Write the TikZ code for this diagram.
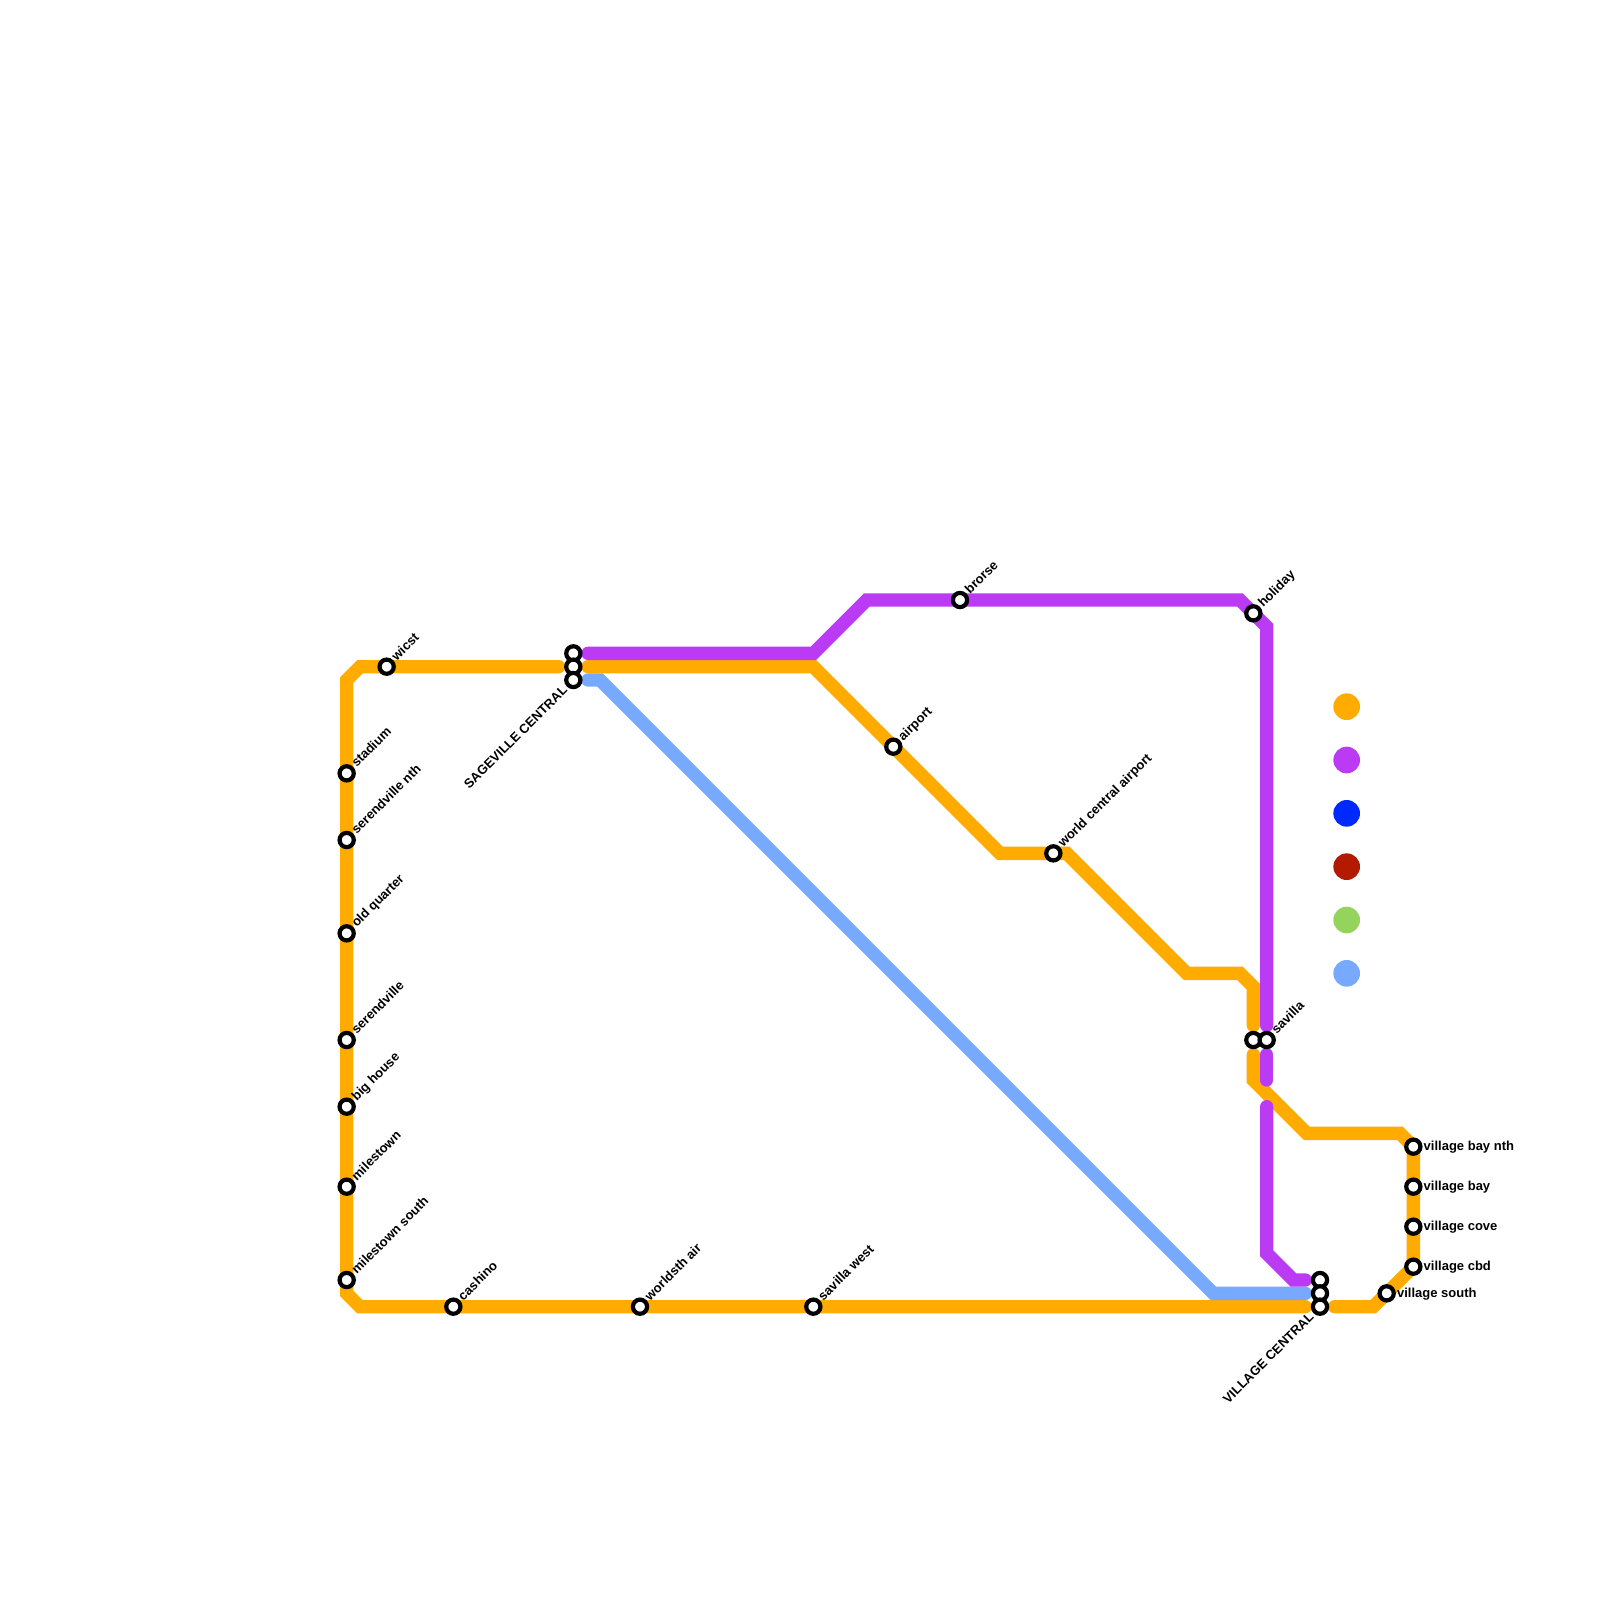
\documentclass[tikz,border=0pt]{standalone}
\usepackage{fontspec}
\setmainfont{Liberation Sans}
\usetikzlibrary{positioning}
\definecolor{lineorange}{HTML}{FFAB00}
\definecolor{linepurple}{HTML}{BB3AF3}
\definecolor{lineblue}{HTML}{0029FF}
\definecolor{linered}{HTML}{B31B00}
\definecolor{linegreen}{HTML}{94D35C}
\definecolor{linesky}{HTML}{76A9FF}
\tikzset{
  point/.style={coordinate},
  % The lines:
  metro/.style={line width=6.667pt,line cap=round,line join=miter,miter limit=10},
  % The stops:
  station/.style={
    circle,
    inner sep=0pt,
    minimum size=7.1pt,
    line width=2.1pt,
    draw=black,
    fill=white},
  % The legend:
  legend/.style={circle,inner sep=0pt,minimum size=13.333pt},
  % The texts:
  stoptext/.style={
    inner sep=0pt,
    font=\bfseries\fontsize{6.5}{7}\selectfont,
    text height=1.5ex,text depth=.25ex},
  ne text/.style={stoptext,anchor=west,rotate=45},
  sw text/.style={stoptext,anchor=east,rotate=45},
  e text/.style={stoptext,anchor=west}
}
\begin{document}
\begin{tikzpicture}[x=6.6667pt,y=-6.6667pt]
  \useasboundingbox (0,0) rectangle (120,120);

  % the bends and the line ends
  \node (o1)  [point] at (41.9,50) {};
  \node (o2)  [point] at (27,50)   {};
  \node (o3)  [point] at (26,51)   {};
  \node (o4)  [point] at (26,97)   {};
  \node (o5)  [point] at (27,98)   {};
  \node (o6)  [point] at (97.9,98) {};
  \node (o7)  [point] at (44.1,50) {};
  \node (o8)  [point] at (61,50)   {};
  \node (o9)  [point] at (75,64)   {};
  \node (o10) [point] at (80,64)   {};
  \node (o11) [point] at (89,73)   {};
  \node (o12) [point] at (93,73)   {};
  \node (o13) [point] at (94,74)   {};
  \node (o14) [point] at (94,76.9) {};
  \node (o15) [point] at (94,79.1) {};
  \node (o16) [point] at (94,81)   {};
  \node (o17) [point] at (98,85)   {};
  \node (o18) [point] at (105,85)  {};
  \node (o19) [point] at (106,86)  {};
  \node (o20) [point] at (106,95)  {};
  \node (o21) [point] at (103,98)  {};
  \node (o22) [point] at (100.1,98) {};

  \node (v1)  [point] at (44.1,49) {};
  \node (v2)  [point] at (61,49)   {};
  \node (v3)  [point] at (65,45)   {};
  \node (v4)  [point] at (93,45)   {};
  \node (v5)  [point] at (95,47)   {};
  \node (v6)  [point] at (95,76.9) {};
  \node (v7)  [point] at (95,79.1) {};
  \node (v8)  [point] at (95,81)   {};
  \node (v9)  [point] at (95,83)   {};
  \node (v10) [point] at (95,94)   {};
  \node (v11) [point] at (97,96)   {};
  \node (v12) [point] at (97.9,96) {};

  \node (b1)  [point] at (44.1,51) {};
  \node (b2)  [point] at (45,51)   {};
  \node (b3)  [point] at (91,97)   {};
  \node (b4)  [point] at (97.9,97) {};

  % the lines
  \draw [metro,draw=lineorange] (o1) -- (o2) -- (o3) -- (o4) -- (o5) -- (o6);
  \draw [metro,draw=lineorange] (o7) -- (o8) -- (o9) -- (o10) -- (o11) -- (o12) -- (o13) -- (o14);
  \draw [metro,draw=lineorange] (o15) -- (o16) -- (o17) -- (o18) -- (o19) -- (o20) -- (o21) -- (o22);
  \draw [metro,draw=linesky] (b1) -- (b2) -- (b3) -- (b4);
  \draw [metro,draw=linepurple] (v1) -- (v2) -- (v3) -- (v4) -- (v5) -- (v6);
  \draw [metro,draw=linepurple] (v7) -- (v8);
  \draw [metro,draw=linepurple] (v9) -- (v10) -- (v11) -- (v12);

  % the stops
  \node (stadium)   [station] at (26,58) {};
  \node (sernth)    [station] at (26,63) {};
  \node (oldq)      [station] at (26,70) {};
  \node (serend)    [station] at (26,78) {};
  \node (bighouse)  [station] at (26,83) {};
  \node (miles)     [station] at (26,89) {};
  \node (milessth)  [station] at (26,96) {};
  \node (wicst)     [station] at (29,50) {};
  \node (cashino)   [station] at (34,98) {};
  \node (worldsth)  [station] at (48,98) {};
  \node (savwest)   [station] at (61,98) {};
  \node (sage1)     [station] at (43,49) {};
  \node (sage2)     [station] at (43,50) {};
  \node (sage3)     [station] at (43,51) {};
  \node (airport)   [station] at (67,56) {};
  \node (brorse)    [station] at (72,45) {};
  \node (worldair)  [station] at (79,64) {};
  \node (holiday)   [station] at (94,46) {};
  \node (savilla1)  [station] at (94,78) {};
  \node (savilla2)  [station] at (95,78) {};
  \node (vill1)     [station] at (99,96) {};
  \node (vill2)     [station] at (99,97) {};
  \node (vill3)     [station] at (99,98) {};
  \node (villsth)   [station] at (104,97) {};
  \node (villcbd)   [station] at (106,95) {};
  \node (villcove)  [station] at (106,92) {};
  \node (villbay)   [station] at (106,89) {};
  \node (villnth)   [station] at (106,86) {};

  % the texts
  \node (t1)  [ne text] at ([shift={(2.6pt,4.9pt)}]stadium.center)  {stadium};
  \node (t2)  [ne text] at ([shift={(2.6pt,4.9pt)}]sernth.center)   {serendville nth};
  \node (t3)  [ne text] at ([shift={(2.6pt,4.9pt)}]oldq.center)     {old quarter};
  \node (t4)  [ne text] at ([shift={(2.6pt,4.9pt)}]serend.center)   {serendville};
  \node (t5)  [ne text] at ([shift={(2.6pt,4.9pt)}]bighouse.center) {big house};
  \node (t6)  [ne text] at ([shift={(2.6pt,4.9pt)}]miles.center)    {milestown};
  \node (t7)  [ne text] at ([shift={(2.6pt,4.9pt)}]milessth.center) {milestown south};
  \node (t8)  [ne text] at ([shift={(2.6pt,4.9pt)}]wicst.center)    {wicst};
  \node (t9)  [ne text] at ([shift={(2.6pt,4.9pt)}]cashino.center)  {cashino};
  \node (t10) [ne text] at ([shift={(2.6pt,4.9pt)}]worldsth.center) {worldsth air};
  \node (t11) [ne text] at ([shift={(2.6pt,4.9pt)}]savwest.center)  {savilla west};
  \node (t12) [ne text] at ([shift={(2.6pt,4.9pt)}]airport.center)  {airport};
  \node (t13) [ne text] at ([shift={(2.6pt,4.9pt)}]brorse.center)   {brorse};
  \node (t14) [ne text] at ([shift={(2.6pt,4.9pt)}]worldair.center) {world central airport};
  \node (t15) [ne text] at ([shift={(2.6pt,4.9pt)}]holiday.center)  {holiday};
  \node (t16) [ne text] at ([shift={(2.6pt,4.9pt)}]savilla2.center) {savilla};
  \node (t17) [sw text] at ([shift={(-4.9pt,-3.1pt)}]sage3.center)  {SAGEVILLE CENTRAL};
  \node (t18) [sw text] at ([shift={(-4.9pt,-3.1pt)}]vill3.center)  {VILLAGE CENTRAL};
  \node (t19) [e text,right=5pt of villnth.center,anchor=west,yshift=1.4pt]  {village bay nth};
  \node (t20) [e text,right=5pt of villbay.center,anchor=west,yshift=1.4pt]  {village bay};
  \node (t21) [e text,right=5pt of villcove.center,anchor=west,yshift=1.4pt] {village cove};
  \node (t22) [e text,right=5pt of villcbd.center,anchor=west,yshift=1.4pt]  {village cbd};
  \node (t23) [e text,right=5pt of villsth.center,anchor=west,yshift=1.4pt]  {village south};

  % the legend
  \node (k1) [legend,fill=lineorange] at (101,53) {};
  \node (k2) [legend,fill=linepurple] at (101,57) {};
  \node (k3) [legend,fill=lineblue]   at (101,61) {};
  \node (k4) [legend,fill=linered]    at (101,65) {};
  \node (k5) [legend,fill=linegreen]  at (101,69) {};
  \node (k6) [legend,fill=linesky]    at (101,73) {};
\end{tikzpicture}
\end{document}
